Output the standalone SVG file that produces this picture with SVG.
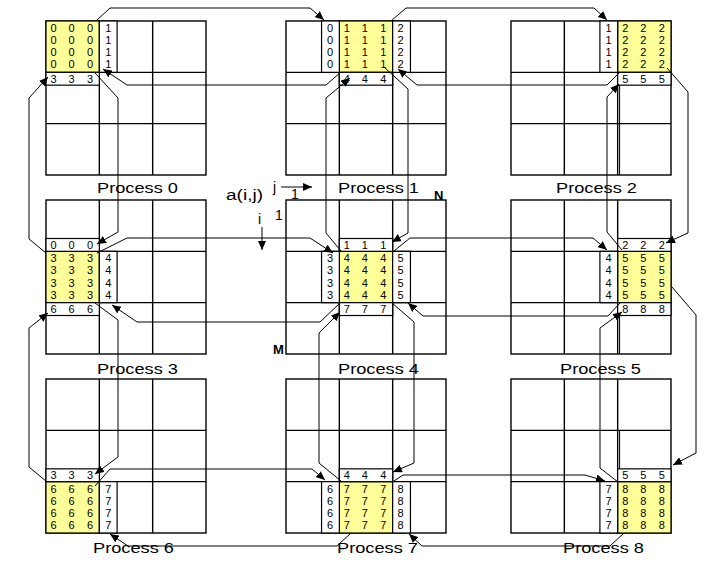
<svg xmlns="http://www.w3.org/2000/svg" width="728" height="576" viewBox="0 0 728 576">
<defs>
<style>
.grid{fill:none;stroke:#000;stroke-width:1.4}
.thin{fill:none;stroke:#000;stroke-width:1}
.yel{fill:#FFFF99;stroke:#000;stroke-width:1.2}
.st{fill:#fff;stroke:#000;stroke-width:1.2}
.d{font-family:"Liberation Sans",Arial,sans-serif;font-size:11px;text-anchor:middle;fill:#000}
.lbl{font-family:"Liberation Sans",Arial,sans-serif;font-size:15px;fill:#000}
.ann{font-family:"Liberation Sans",Arial,sans-serif;font-size:14px;fill:#000}
.bold{font-family:"Liberation Sans",Arial,sans-serif;font-size:13px;font-weight:bold;fill:#000}
.c{fill:none;stroke:#000;stroke-width:1}
</style>
<marker id="ah" markerUnits="userSpaceOnUse" markerWidth="10" markerHeight="8" refX="9" refY="4" orient="auto">
<path d="M0,0 L9,4 L0,8 z" fill="#000"/>
</marker>
<g id="gridA">
<rect class="grid" x="0" y="0" width="160" height="154"/>
<path class="grid" d="M53.33,0V154M106.67,0V154M0,51.33H160M0,102.67H160"/>
</g>
<g id="gridC">
<rect class="grid" x="0" y="0" width="160" height="154"/>
<path class="grid" d="M53.33,0V154M106.67,0V154M0,51.33H160M0,102.67H160"/>
<path class="thin" d="M108.6,51.33V154"/>
</g>
</defs>
<rect width="728" height="576" fill="#fff"/>

<g id="p0" transform="translate(46,21)">
<use href="#gridA"/>
<rect class="yel" x="0" y="0" width="53.33" height="51.33"/>
<rect class="st" x="53.33" y="0" width="17.77" height="51.33"/>
<rect class="st" x="0" y="51.33" width="53.33" height="12.83"/>
<text class="d"><tspan x="7.5 16.5 25.5 34.7 44" y="10.8">0 0 0</tspan><tspan x="7.5 16.5 25.5 34.7 44" y="23">0 0 0</tspan><tspan x="7.5 16.5 25.5 34.7 44" y="35.2">0 0 0</tspan><tspan x="7.5 16.5 25.5 34.7 44" y="47.4">0 0 0</tspan><tspan x="7.5 16.5 25.5 34.7 44" y="61.9">3 3 3</tspan></text>
<text class="d"><tspan x="62.2" y="10.8">1</tspan><tspan x="62.2" y="23">1</tspan><tspan x="62.2" y="35.2">1</tspan><tspan x="62.2" y="47.4">1</tspan></text>
<text class="lbl" x="51" y="172" textLength="81" lengthAdjust="spacingAndGlyphs">Process 0</text>
</g>

<g id="p1" transform="translate(286,21)">
<use href="#gridA"/>
<rect class="yel" x="53.33" y="0" width="53.33" height="51.33"/>
<rect class="st" x="35.56" y="0" width="17.77" height="51.33"/>
<rect class="st" x="106.67" y="0" width="17.77" height="51.33"/>
<rect class="st" x="53.33" y="51.33" width="53.33" height="12.83"/>
<text class="d"><tspan x="60.8 69.8 78.8 88 97.3" y="10.8">1 1 1</tspan><tspan x="60.8 69.8 78.8 88 97.3" y="23">1 1 1</tspan><tspan x="60.8 69.8 78.8 88 97.3" y="35.2">1 1 1</tspan><tspan x="60.8 69.8 78.8 88 97.3" y="47.4">1 1 1</tspan><tspan x="60.8 69.8 78.8 88 97.3" y="61.9">4 4 4</tspan></text>
<text class="d"><tspan x="44" y="10.8">0</tspan><tspan x="44" y="23">0</tspan><tspan x="44" y="35.2">0</tspan><tspan x="44" y="47.4">0</tspan></text>
<text class="d"><tspan x="114.5" y="10.8">2</tspan><tspan x="114.5" y="23">2</tspan><tspan x="114.5" y="35.2">2</tspan><tspan x="114.5" y="47.4">2</tspan></text>
<text class="lbl" x="52" y="172" textLength="81" lengthAdjust="spacingAndGlyphs">Process 1</text>
</g>

<g id="p2" transform="translate(511,21)">
<use href="#gridC"/>
<rect class="yel" x="106.67" y="0" width="53.33" height="51.33"/>
<rect class="st" x="88.9" y="0" width="17.77" height="51.33"/>
<rect class="st" x="106.67" y="51.33" width="53.33" height="12.83"/>
<text class="d"><tspan x="114.2 123.2 132.2 141.4 150.7" y="10.8">2 2 2</tspan><tspan x="114.2 123.2 132.2 141.4 150.7" y="23">2 2 2</tspan><tspan x="114.2 123.2 132.2 141.4 150.7" y="35.2">2 2 2</tspan><tspan x="114.2 123.2 132.2 141.4 150.7" y="47.4">2 2 2</tspan><tspan x="114.2 123.2 132.2 141.4 150.7" y="61.9">5 5 5</tspan></text>
<text class="d"><tspan x="97.5" y="10.8">1</tspan><tspan x="97.5" y="23">1</tspan><tspan x="97.5" y="35.2">1</tspan><tspan x="97.5" y="47.4">1</tspan></text>
<text class="lbl" x="45" y="172" textLength="81" lengthAdjust="spacingAndGlyphs">Process 2</text>
</g>

<g id="p3" transform="translate(46,200)">
<use href="#gridA"/>
<rect class="yel" x="0" y="51.33" width="53.33" height="51.33"/>
<rect class="st" x="0" y="38.5" width="53.33" height="12.83"/>
<rect class="st" x="53.33" y="51.33" width="17.77" height="51.33"/>
<rect class="st" x="0" y="102.67" width="53.33" height="12.83"/>
<text class="d"><tspan x="7.5 16.5 25.5 34.7 44" y="49">0 0 0</tspan><tspan x="7.5 16.5 25.5 34.7 44" y="62.1">3 3 3</tspan><tspan x="7.5 16.5 25.5 34.7 44" y="74.3">3 3 3</tspan><tspan x="7.5 16.5 25.5 34.7 44" y="86.5">3 3 3</tspan><tspan x="7.5 16.5 25.5 34.7 44" y="98.7">3 3 3</tspan><tspan x="7.5 16.5 25.5 34.7 44" y="113.2">6 6 6</tspan></text>
<text class="d"><tspan x="62.2" y="62.1">4</tspan><tspan x="62.2" y="74.3">4</tspan><tspan x="62.2" y="86.5">4</tspan><tspan x="62.2" y="98.7">4</tspan></text>
<text class="lbl" x="51" y="174" textLength="81" lengthAdjust="spacingAndGlyphs">Process 3</text>
</g>

<g id="p4" transform="translate(286,200)">
<use href="#gridA"/>
<rect class="yel" x="53.33" y="51.33" width="53.33" height="51.33"/>
<rect class="st" x="53.33" y="38.5" width="53.33" height="12.83"/>
<rect class="st" x="35.56" y="51.33" width="17.77" height="51.33"/>
<rect class="st" x="106.67" y="51.33" width="17.77" height="51.33"/>
<rect class="st" x="53.33" y="102.67" width="53.33" height="12.83"/>
<text class="d"><tspan x="60.8 69.8 78.8 88 97.3" y="49">1 1 1</tspan><tspan x="60.8 69.8 78.8 88 97.3" y="62.1">4 4 4</tspan><tspan x="60.8 69.8 78.8 88 97.3" y="74.3">4 4 4</tspan><tspan x="60.8 69.8 78.8 88 97.3" y="86.5">4 4 4</tspan><tspan x="60.8 69.8 78.8 88 97.3" y="98.7">4 4 4</tspan><tspan x="60.8 69.8 78.8 88 97.3" y="113.2">7 7 7</tspan></text>
<text class="d"><tspan x="44" y="62.1">3</tspan><tspan x="44" y="74.3">3</tspan><tspan x="44" y="86.5">3</tspan><tspan x="44" y="98.7">3</tspan></text>
<text class="d"><tspan x="114.5" y="62.1">5</tspan><tspan x="114.5" y="74.3">5</tspan><tspan x="114.5" y="86.5">5</tspan><tspan x="114.5" y="98.7">5</tspan></text>
<text class="lbl" x="52" y="174" textLength="81" lengthAdjust="spacingAndGlyphs">Process 4</text>
</g>

<g id="p5" transform="translate(511,200)">
<use href="#gridC"/>
<rect class="yel" x="106.67" y="51.33" width="53.33" height="51.33"/>
<rect class="st" x="106.67" y="38.5" width="53.33" height="12.83"/>
<rect class="st" x="88.9" y="51.33" width="17.77" height="51.33"/>
<rect class="st" x="106.67" y="102.67" width="53.33" height="12.83"/>
<text class="d"><tspan x="114.2 123.2 132.2 141.4 150.7" y="49">2 2 2</tspan><tspan x="114.2 123.2 132.2 141.4 150.7" y="62.1">5 5 5</tspan><tspan x="114.2 123.2 132.2 141.4 150.7" y="74.3">5 5 5</tspan><tspan x="114.2 123.2 132.2 141.4 150.7" y="86.5">5 5 5</tspan><tspan x="114.2 123.2 132.2 141.4 150.7" y="98.7">5 5 5</tspan><tspan x="114.2 123.2 132.2 141.4 150.7" y="113.2">8 8 8</tspan></text>
<text class="d"><tspan x="97.5" y="62.1">4</tspan><tspan x="97.5" y="74.3">4</tspan><tspan x="97.5" y="86.5">4</tspan><tspan x="97.5" y="98.7">4</tspan></text>
<text class="lbl" x="49" y="174" textLength="81" lengthAdjust="spacingAndGlyphs">Process 5</text>
</g>

<g id="p6" transform="translate(46,379)">
<use href="#gridA"/>
<rect class="yel" x="0" y="102.67" width="53.33" height="51.33"/>
<rect class="st" x="0" y="89.84" width="53.33" height="12.83"/>
<rect class="st" x="53.33" y="102.67" width="17.77" height="51.33"/>
<text class="d"><tspan x="7.5 16.5 25.5 34.7 44" y="100.3">3 3 3</tspan><tspan x="7.5 16.5 25.5 34.7 44" y="113.5">6 6 6</tspan><tspan x="7.5 16.5 25.5 34.7 44" y="125.7">6 6 6</tspan><tspan x="7.5 16.5 25.5 34.7 44" y="137.9">6 6 6</tspan><tspan x="7.5 16.5 25.5 34.7 44" y="150.1">6 6 6</tspan></text>
<text class="d"><tspan x="62.2" y="113.5">7</tspan><tspan x="62.2" y="125.7">7</tspan><tspan x="62.2" y="137.9">7</tspan><tspan x="62.2" y="150.1">7</tspan></text>
<text class="lbl" x="47" y="174" textLength="81" lengthAdjust="spacingAndGlyphs">Process 6</text>
</g>

<g id="p7" transform="translate(286,379)">
<use href="#gridA"/>
<rect class="yel" x="53.33" y="102.67" width="53.33" height="51.33"/>
<rect class="st" x="53.33" y="89.84" width="53.33" height="12.83"/>
<rect class="st" x="35.56" y="102.67" width="17.77" height="51.33"/>
<rect class="st" x="106.67" y="102.67" width="17.77" height="51.33"/>
<text class="d"><tspan x="60.8 69.8 78.8 88 97.3" y="100.3">4 4 4</tspan><tspan x="60.8 69.8 78.8 88 97.3" y="113.5">7 7 7</tspan><tspan x="60.8 69.8 78.8 88 97.3" y="125.7">7 7 7</tspan><tspan x="60.8 69.8 78.8 88 97.3" y="137.9">7 7 7</tspan><tspan x="60.8 69.8 78.8 88 97.3" y="150.1">7 7 7</tspan></text>
<text class="d"><tspan x="44" y="113.5">6</tspan><tspan x="44" y="125.7">6</tspan><tspan x="44" y="137.9">6</tspan><tspan x="44" y="150.1">6</tspan></text>
<text class="d"><tspan x="114.5" y="113.5">8</tspan><tspan x="114.5" y="125.7">8</tspan><tspan x="114.5" y="137.9">8</tspan><tspan x="114.5" y="150.1">8</tspan></text>
<text class="lbl" x="51" y="174" textLength="81" lengthAdjust="spacingAndGlyphs">Process 7</text>
</g>

<g id="p8" transform="translate(511,379)">
<use href="#gridC"/>
<rect class="yel" x="106.67" y="102.67" width="53.33" height="51.33"/>
<rect class="st" x="106.67" y="89.84" width="53.33" height="12.83"/>
<rect class="st" x="88.9" y="102.67" width="17.77" height="51.33"/>
<text class="d"><tspan x="114.2 123.2 132.2 141.4 150.7" y="100.3">5 5 5</tspan><tspan x="114.2 123.2 132.2 141.4 150.7" y="113.5">8 8 8</tspan><tspan x="114.2 123.2 132.2 141.4 150.7" y="125.7">8 8 8</tspan><tspan x="114.2 123.2 132.2 141.4 150.7" y="137.9">8 8 8</tspan><tspan x="114.2 123.2 132.2 141.4 150.7" y="150.1">8 8 8</tspan></text>
<text class="d"><tspan x="97.5" y="113.5">7</tspan><tspan x="97.5" y="125.7">7</tspan><tspan x="97.5" y="137.9">7</tspan><tspan x="97.5" y="150.1">7</tspan></text>
<text class="lbl" x="52" y="174" textLength="81" lengthAdjust="spacingAndGlyphs">Process 8</text>
</g>

<g id="annotations">
<text class="ann" x="226" y="200" textLength="37" lengthAdjust="spacingAndGlyphs">a(i,j)</text>
<text class="ann" x="273" y="192">j</text>
<line class="c" x1="281" y1="187" x2="312" y2="187" marker-end="url(#ah)"/>
<text class="ann" x="291" y="199">1</text>
<text class="ann" x="275" y="220">1</text>
<text class="ann" x="258" y="224">i</text>
<line class="c" x1="262" y1="227" x2="262" y2="250" marker-end="url(#ah)"/>
<text class="bold" x="434" y="200">N</text>
<text class="bold" x="273" y="354">M</text>
</g>

<g id="connectors" class="c">
<polyline points="96,21 110,8 310,8 324,20" marker-end="url(#ah)"/>
<polyline points="391,21 406,8 594,8 607,20" marker-end="url(#ah)"/>
<polyline points="341,72 326,85 127,85 103,69" marker-end="url(#ah)"/>
<polyline points="620,72 607,85 417,85 398,69" marker-end="url(#ah)"/>
<polyline points="384,67 408,89 408,233 392,242" marker-end="url(#ah)"/>
<polyline points="341,251 326,233 326,98 350,78" marker-end="url(#ah)"/>
<polyline points="95,73 118,98 118,232 97,244" marker-end="url(#ah)"/>
<polyline points="46,253 29,239 29,98 48,77" marker-end="url(#ah)"/>
<polyline points="97,253 127,238 310,238 333,253" marker-end="url(#ah)"/>
<polyline points="394,251 410,238 593,238 607,250" marker-end="url(#ah)"/>
<polyline points="340,303 320,322 137,322 112,305" marker-end="url(#ah)"/>
<polyline points="620,303 608,316 423,316 408,303" marker-end="url(#ah)"/>
<polyline points="667,68 688,92 688,233 666,243" marker-end="url(#ah)"/>
<polyline points="622,250 607,232 607,97 619,84" marker-end="url(#ah)"/>
<polyline points="95,303 118,320 118,457 95,474" marker-end="url(#ah)"/>
<polyline points="47,482 29,467 29,328 48,313" marker-end="url(#ah)"/>
<polyline points="392,303 414,322 414,463 393,472" marker-end="url(#ah)"/>
<polyline points="341,481 319,463 319,333 340,312" marker-end="url(#ah)"/>
<polyline points="672,287 696,315 696,453 673,465" marker-end="url(#ah)"/>
<polyline points="618,482 600,468 600,328 622,312" marker-end="url(#ah)"/>
<polyline points="95,486 110,469 312,469 325,480" marker-end="url(#ah)"/>
<polyline points="394,481 403,475 585,475 605,481" marker-end="url(#ah)"/>
<polyline points="351,533 337,546 128,546 110,534" marker-end="url(#ah)"/>
<polyline points="624,533 610,546 422,546 409,534" marker-end="url(#ah)"/>
</g>
</svg>
